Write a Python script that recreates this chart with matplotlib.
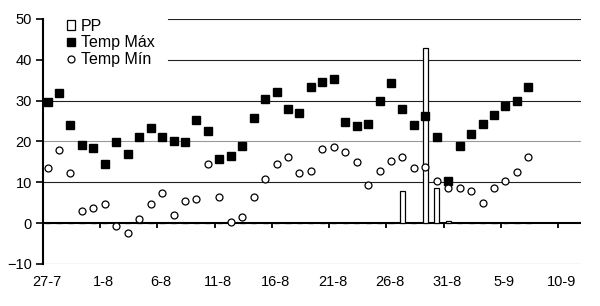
import numpy as np
import matplotlib
matplotlib.use("Agg")
import matplotlib.pyplot as plt

plt.rcParams['font.family'] = ['Liberation Sans', 'DejaVu Sans']

# daily values from 27-7 to 7-9
temp_max = [29.6, 31.8, 24.0, 19.1, 18.5, 14.5, 19.8, 17.0, 21.2, 23.4,
            21.2, 20.1, 19.8, 25.3, 22.5, 15.6, 16.4, 18.9, 25.7, 30.5,
            32.0, 27.9, 26.9, 33.3, 34.5, 35.3, 24.7, 23.8, 24.4, 30.0,
            34.2, 28.0, 24.1, 26.3, 21.0, 10.3, 18.9, 21.9, 24.4, 26.5,
            28.6, 30.0, 33.3]
temp_min = [13.4, 17.9, 12.2, 3.0, 3.6, 4.8, -0.7, -2.5, 0.9, 4.8,
            7.5, 2.1, 5.5, 6.0, 14.4, 6.4, 0.3, 1.5, 6.4, 10.7,
            14.6, 16.2, 12.2, 12.7, 18.2, 18.6, 17.4, 14.9, 9.4, 12.7,
            15.3, 16.2, 13.5, 13.8, 10.3, 8.5, 8.7, 7.9, 4.9, 8.5,
            10.3, 12.5, 16.2]
pp = [0] * 31 + [7.8, 0, 43.0, 8.7, 0.5] + [0] * 7
tick_labels = ["27-7", "1-8", "6-8", "11-8", "16-8", "21-8", "26-8", "31-8", "5-9", "10-9"]

days = np.arange(len(temp_max)) + 0.4   # points sit a bit right of the day boundary
ticks = np.arange(len(tick_labels)) * 5

fig = plt.figure(figsize=(6, 3.06), dpi=100)
ax = fig.add_axes([0.0717, 0.1373, 0.8967, 0.8007])

# gridlines (the top two start after the legend)
ax.axhline(-10, color='#555555', lw=0.8, zorder=1)
ax.axhline(10, color='#222222', lw=0.8, zorder=1)
ax.axhline(20, color='#999999', lw=0.8, zorder=1)
ax.axhline(30, color='#222222', lw=0.8, zorder=1)
ax.axhline(40, xmin=0.232, color='#222222', lw=0.8, zorder=1)
ax.axhline(50, xmin=0.232, color='#222222', lw=0.8, zorder=1)
ax.axhline(0, color='black', lw=1.5, zorder=1.5)
ax.vlines(ticks[1:], -1.3, 0, color='black', lw=1.3, zorder=1.5)

bars = ax.bar(days, pp, width=0.45, color='white', edgecolor='black', lw=0.9, zorder=2)
l1, = ax.plot(days, temp_max, 's', ms=5.5, color='black', zorder=3)
l2, = ax.plot(days, temp_min, 'o', ms=5, mfc='white', mec='black', mew=0.9, zorder=3)

ax.set_xlim(0, 47)
ax.set_ylim(-10, 50)
ax.set_yticks(np.arange(-10, 51, 10))
ax.set_xticks(ticks + 0.3)
ax.set_xticklabels(tick_labels)
ax.tick_params(axis='x', length=0, pad=8, labelsize=10.5)
ax.tick_params(axis='y', length=5, width=1.2, pad=3, labelsize=10.5)

for s in ['top', 'right', 'bottom']:
    ax.spines[s].set_visible(False)
ax.spines['left'].set_linewidth(1.5)

ax.legend([bars, l1, l2], ['PP', 'Temp Máx', 'Temp Mín'],
          loc='upper left', bbox_to_anchor=(0.0437, 1.0), borderaxespad=0,
          fontsize=11.5, frameon=False, handlelength=0.56, handleheight=0.56,
          handletextpad=0.33, labelspacing=0.09, borderpad=0)

plt.savefig("out.png", dpi=100)
